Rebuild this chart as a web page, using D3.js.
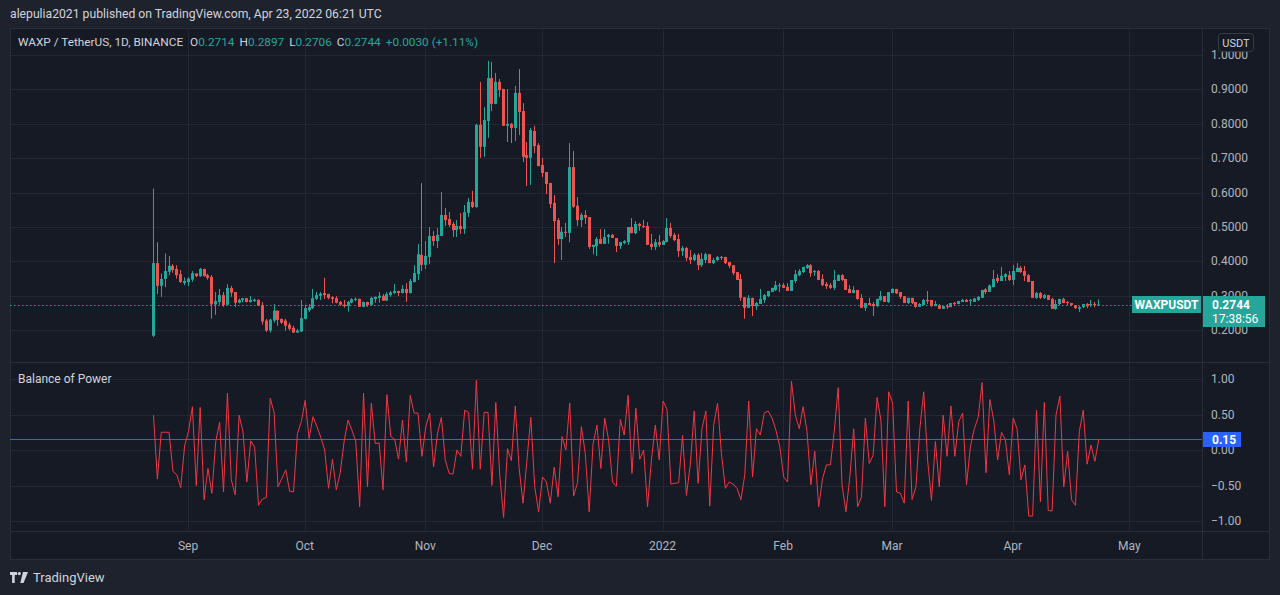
<!DOCTYPE html>
<html><head><meta charset="utf-8">
<script src="https://cdn.jsdelivr.net/npm/d3@7"></script>
<style>
html,body{margin:0;padding:0;background:#1e222d;}
svg{display:block;font-family:Roboto,"Noto Sans",sans-serif;}
</style></head>
<body><svg id="c" width="1280" height="595"></svg>
<script>
// ---------- DATA ----------
const startDate = "2021-08-23";
const opens = [.184,.395,.329,.349,.370,.387,.378,.363,.337,.340,
.347,.365,.357,.378,.360,.355,.275,.282,.302,.274,
.323,.311,.280,.288,.293,.282,.285,.288,.273,.228,
.199,.228,.257,.233,.228,.216,.207,.193,.196,.233,
.258,.264,.291,.300,.308,.305,.296,.293,.282,.274,
.271,.280,.288,.291,.268,.282,.274,.291,.294,.300,
.286,.302,.308,.314,.308,.320,.308,.340,.363,.419,
.390,.413,.474,.459,.474,.535,.523,.509,.491,.503,
.494,.541,.573,.558,.797,.733,.808,.933,.858,.922,
.901,.794,.800,.788,.890,.837,.709,.701,.779,.738,
.680,.660,.628,.570,.520,.465,.486,.483,.674,.562,
.520,.535,.529,.442,.445,.465,.451,.471,.477,.468,
.445,.453,.456,.500,.482,.509,.503,.503,.451,.442,
.456,.448,.456,.497,.477,.465,.430,.439,.413,.404,
.419,.389,.404,.421,.395,.404,.413,.413,.398,.389,
.369,.349,.296,.265,.294,.270,.276,.288,.299,.311,
.317,.328,.331,.326,.314,.343,.360,.369,.381,.389,
.369,.372,.349,.334,.331,.323,.343,.360,.349,.320,
.308,.317,.294,.265,.279,.276,.270,.288,.299,.282,
.308,.320,.311,.299,.279,.294,.282,.268,.273,.288,
.288,.270,.273,.262,.270,.267,.279,.276,.282,.288,
.285,.282,.288,.294,.319,.311,.325,.352,.343,.355,
.360,.346,.369,.381,.372,.360,.343,.294,.308,.294,
.302,.291,.262,.276,.291,.282,.279,.273,.262,.267,
.276,.273,.276,.2714];
const highs = [.612,.456,.365,.423,.416,.392,.389,.375,.353,.354,
.372,.365,.381,.379,.364,.360,.311,.320,.311,.334,
.329,.311,.292,.294,.294,.299,.292,.290,.282,.233,
.233,.276,.257,.233,.233,.222,.213,.204,.288,.274,
.276,.320,.311,.311,.352,.306,.299,.299,.285,.288,
.285,.293,.295,.292,.283,.283,.297,.298,.311,.305,
.311,.314,.334,.315,.331,.337,.349,.389,.451,.628,
.459,.500,.488,.497,.602,.555,.544,.515,.520,.541,
.564,.584,.605,.800,.922,.849,.983,.980,.948,.930,
.902,.901,.802,.910,.959,.860,.747,.788,.794,.744,
.701,.660,.628,.593,.526,.500,.512,.744,.721,.587,
.541,.549,.529,.448,.471,.494,.494,.480,.480,.468,
.456,.462,.500,.526,.517,.512,.520,.514,.480,.465,
.477,.462,.526,.512,.483,.480,.445,.442,.433,.424,
.424,.425,.425,.421,.410,.416,.416,.413,.398,.389,
.369,.363,.296,.302,.294,.282,.320,.305,.314,.323,
.343,.337,.337,.337,.346,.375,.378,.384,.392,.392,
.375,.375,.363,.340,.337,.375,.363,.363,.349,.331,
.328,.317,.305,.279,.294,.282,.291,.314,.299,.311,
.322,.320,.311,.299,.294,.294,.282,.279,.291,.314,
.288,.285,.276,.270,.276,.279,.282,.285,.291,.291,
.291,.294,.299,.317,.322,.333,.375,.363,.384,.366,
.372,.390,.395,.387,.387,.363,.343,.311,.311,.305,
.302,.294,.288,.291,.294,.285,.279,.273,.270,.276,
.279,.288,.282,.2897];
const lows = [.180,.305,.297,.325,.360,.367,.350,.337,.331,.328,
.341,.354,.355,.356,.347,.234,.245,.274,.268,.274,
.297,.268,.278,.281,.281,.280,.282,.271,.216,.195,
.193,.222,.213,.218,.199,.199,.193,.193,.195,.231,
.253,.262,.288,.288,.291,.290,.278,.278,.271,.266,
.254,.278,.284,.268,.267,.268,.271,.280,.280,.285,
.285,.297,.305,.299,.307,.282,.307,.339,.346,.372,
.378,.392,.445,.439,.473,.503,.500,.471,.471,.480,
.480,.529,.555,.556,.701,.704,.759,.837,.857,.878,
.794,.747,.744,.750,.767,.689,.619,.622,.715,.677,
.645,.596,.555,.395,.448,.404,.471,.456,.556,.503,
.500,.509,.436,.421,.416,.451,.451,.451,.468,.427,
.436,.450,.448,.482,.479,.489,.497,.448,.433,.433,
.442,.448,.456,.468,.459,.413,.416,.401,.392,.401,
.375,.384,.395,.395,.392,.401,.404,.392,.381,.360,
.346,.285,.233,.265,.241,.259,.276,.279,.296,.311,
.314,.311,.323,.314,.314,.337,.357,.366,.378,.355,
.358,.346,.328,.320,.320,.317,.343,.343,.317,.308,
.308,.288,.265,.256,.273,.241,.267,.285,.282,.279,
.308,.305,.291,.279,.276,.276,.265,.268,.273,.276,
.268,.270,.262,.262,.262,.267,.273,.276,.282,.282,
.273,.282,.285,.294,.305,.311,.325,.337,.343,.343,
.343,.331,.369,.366,.343,.340,.294,.291,.291,.291,
.288,.262,.259,.273,.279,.273,.270,.262,.253,.264,
.264,.268,.267,.2706];
const closes = [.395,.329,.349,.372,.387,.375,.360,.340,.343,.350,
.366,.357,.378,.357,.352,.275,.285,.302,.273,.323,
.309,.280,.288,.293,.282,.288,.289,.271,.225,.199,
.231,.257,.230,.222,.213,.204,.193,.199,.235,.264,
.267,.293,.302,.306,.302,.294,.291,.280,.274,.270,
.282,.290,.291,.268,.282,.273,.294,.297,.300,.286,
.305,.310,.314,.308,.320,.308,.343,.366,.421,.390,
.416,.474,.459,.477,.535,.520,.506,.491,.503,.494,
.543,.573,.558,.797,.733,.811,.933,.858,.922,.898,
.794,.800,.788,.890,.834,.704,.701,.782,.735,.677,
.657,.625,.567,.517,.465,.486,.483,.674,.559,.520,
.535,.527,.442,.448,.465,.451,.471,.477,.468,.445,
.456,.459,.500,.482,.509,.503,.500,.448,.442,.456,
.448,.459,.497,.474,.462,.430,.439,.410,.404,.419,
.389,.407,.421,.395,.404,.413,.410,.395,.387,.366,
.346,.294,.265,.294,.270,.279,.291,.302,.314,.323,
.331,.331,.323,.314,.346,.363,.372,.384,.389,.366,
.372,.346,.331,.328,.323,.346,.360,.346,.317,.308,
.317,.291,.265,.279,.273,.270,.291,.299,.282,.311,
.320,.307,.297,.279,.294,.279,.268,.276,.288,.284,
.270,.276,.262,.270,.267,.279,.276,.285,.288,.282,
.288,.292,.297,.317,.311,.330,.349,.343,.358,.363,
.346,.372,.381,.369,.358,.340,.294,.308,.294,.302,
.288,.262,.276,.291,.279,.279,.273,.264,.267,.276,
.270,.276,.273,.2744];
const bop = [.49,-.41,.25,.25,.25,-.30,-.35,-.53,.06,.26,
.61,-.50,.60,-.70,-.26,-.61,.12,.39,-.59,.80,
-.42,-.63,.49,.26,-.45,.13,.04,-.78,-.69,-.67,
.73,.53,-.52,-.40,-.28,-.58,-.59,.23,.40,.70,
.16,.47,.33,.18,.0,-.54,-.13,-.56,-.32,.12,
.42,.28,.12,-.80,.80,-.52,.66,.09,.10,-.56,
.78,.19,.15,-.13,.42,-.17,.77,.52,.52,-.09,
.33,.52,-.24,.23,.46,-.14,-.33,-.34,.0,-.09,
.56,.53,-.27,.98,-.27,.53,.53,-.50,.67,-.35,
-.95,.02,-.15,.62,-.26,-.75,-.14,.46,-.52,-.87,
-.38,-.45,-.75,-.24,-.66,.19,.0,.66,-.65,-.46,
.33,-.05,-.87,.09,.35,-.26,.45,.14,-.45,-.51,
.43,.21,.77,-.33,.59,-.13,.0,-.80,-.14,.35,
-.14,.69,.57,-.48,-.47,-.46,.21,-.64,-.2,.55,
-.47,.30,.55,-.79,.35,.66,-.05,-.54,-.45,-.48,
-.54,-.70,-.35,.69,-.38,.30,.21,.52,.55,.45,
.28,.05,-.38,-.45,.97,.49,.30,.61,.26,-.49,
-.02,-.80,-.40,-.21,-.21,.26,.88,-.49,-.87,-.38,
.30,-.80,-.66,.45,-.19,-.07,.74,.42,-.80,.82,
.66,-.59,-.61,-.75,.69,-.70,-.52,.30,.82,-.14,
-.71,.12,-.52,.49,-.09,.62,-.09,.40,.52,-.49,
.05,.30,.46,.95,-.32,.71,.42,-.14,.25,.14,
-.35,.45,.30,-.42,-.21,-.93,-.93,.56,-.73,.67,
-.85,-.86,.49,.76,-.52,-.02,-.70,-.78,.26,.56,
-.20,.07,-.16,.15];
const priceTicks = [0.2,0.3,0.4,0.5,0.6,0.7,0.8,0.9,1.0];
const bopTicks = [1,0.5,0,-0.5,-1];
const bopTickLabels = ["1.00","0.50","0.00","\u22120.50","\u22121.00"];
const monthDates = ["2021-09-01","2021-10-01","2021-11-01","2021-12-01","2022-01-01","2022-02-01","2022-03-01","2022-04-01","2022-05-01"];
const monthLabels = ["Sep","Oct","Nov","Dec","2022","Feb","Mar","Apr","May"];
const lastPrice = 0.2744, lastBop = 0.15;

// ---------- LAYOUT ----------
const W=1280,H=595;
const L=10, R=1202, AX=1270, T=28, PB=362, BB=531, TB=560;
const UP="#26a69a", DN="#ef5350", GRID="#232733", TXT="#b2b5be";
const svg=d3.select("#c");
const parse=d3.utcParse("%Y-%m-%d");
const d0=parse(startDate);
const dates=opens.map((_,i)=>d3.utcDay.offset(d0,i));

const x=d3.scaleUtc().domain([d0,parse("2022-05-01")]).range([153,1129.4]);
const y=d3.scaleLinear().domain([0.2,1.0]).range([330.2,55]);
const yb=d3.scaleLinear().domain([-1,1]).range([521,379]);

const defs=svg.append("defs");
defs.append("clipPath").attr("id","clipTop").append("rect").attr("x",1203).attr("y",280).attr("width",66).attr("height",16);
defs.append("clipPath").attr("id","clipBot").append("rect").attr("x",1203).attr("y",327).attr("width",66).attr("height",12);
defs.append("clipPath").attr("id","clipB0").append("rect").attr("x",1203).attr("y",447).attr("width",66).attr("height",12);

svg.append("rect").attr("width",W).attr("height",H).attr("fill","#1e222d");
svg.append("rect").attr("x",L).attr("y",T).attr("width",AX-L).attr("height",TB-T).attr("fill","#161a25");

// header
svg.append("text").attr("x",10).attr("y",18).attr("fill","#d1d4dc").attr("font-size",12.2).text("alepulia2021 published on TradingView.com, Apr 23, 2022 06:21 UTC");

// grids
const g=svg.append("g");
monthDates.forEach(d=>{const xx=Math.round(x(parse(d)))+0.5;
  g.append("line").attr("x1",xx).attr("x2",xx).attr("y1",T).attr("y2",BB).attr("stroke",GRID);});
priceTicks.forEach(p=>{const yy=Math.round(y(p))+0.5;
  g.append("line").attr("x1",L).attr("x2",R).attr("y1",yy).attr("y2",yy).attr("stroke",GRID);});
bopTicks.forEach(p=>{const yy=Math.round(yb(p))+0.5;
  g.append("line").attr("x1",L).attr("x2",R).attr("y1",yy).attr("y2",yy).attr("stroke",GRID);});

// separators
const sep=svg.append("g").attr("stroke","#2a2e39");
sep.append("line").attr("x1",L).attr("x2",AX).attr("y1",PB+0.5).attr("y2",PB+0.5);
sep.append("line").attr("x1",L).attr("x2",AX).attr("y1",BB+0.5).attr("y2",BB+0.5);
sep.append("line").attr("x1",R+0.5).attr("x2",R+0.5).attr("y1",T).attr("y2",TB);
sep.append("rect").attr("x",L+0.5).attr("y",T+0.5).attr("width",AX-L-1).attr("height",TB-T-1).attr("fill","none");

// last price dotted line
const yl=Math.round(y(lastPrice))+0.5;
svg.append("line").attr("x1",L).attr("x2",1132).attr("y1",yl).attr("y2",yl)
  .attr("stroke",UP).attr("stroke-dasharray","1.5,2.5");

// candles
const cg=svg.append("g");
dates.forEach((d,i)=>{
  const cx=Math.round(x(d));
  const up=closes[i]>=opens[i]; const col=up?UP:DN;
  cg.append("rect").attr("x",cx).attr("width",1).attr("y",y(highs[i])).attr("height",Math.max(1,y(lows[i])-y(highs[i]))).attr("fill",col);
  const top=y(Math.max(opens[i],closes[i])), bot=y(Math.min(opens[i],closes[i]));
  cg.append("rect").attr("x",cx-1).attr("width",3).attr("y",top).attr("height",Math.max(1,bot-top)).attr("fill",col);
});

// legend
const lg=svg.append("text").attr("x",18).attr("y",46).attr("font-size",11.8);
lg.append("tspan").attr("fill","#d1d4dc").text("WAXP / TetherUS, 1D, BINANCE");
const ohlc=[["O","0.2714"],["H","0.2897"],["L","0.2706"],["C","0.2744"]];
ohlc.forEach(([k,v],j)=>{lg.append("tspan").attr("fill","#d1d4dc").attr("dx",j==0?7:5).text(k);lg.append("tspan").attr("fill",UP).text(v);});
lg.append("tspan").attr("fill",UP).attr("dx",5).text("+0.0030 (+1.11%)");

// BoP
svg.append("text").attr("x",18).attr("y",383).attr("fill","#d1d4dc").attr("font-size",12).text("Balance of Power");
const yl2=Math.round(yb(lastBop))+0.5;
svg.append("line").attr("x1",L).attr("x2",R).attr("y1",yl2).attr("y2",yl2).attr("stroke","#2962ff").attr("stroke-width",1);
svg.append("path").datum(bop).attr("fill","none").attr("stroke","#f23645").attr("stroke-width",1)
  .attr("d",d3.line().x((v,i)=>x(dates[i])+0.5).y(v=>yb(v)));

// price axis labels
const pa=svg.append("g").attr("font-size",12).attr("fill",TXT);
priceTicks.forEach(p=>{const t=pa.append("text").attr("x",1211).attr("y",y(p)+4).text(p.toFixed(4));
  if(p===0.3) t.attr("clip-path","url(#clipTop)");
  if(p===0.2) t.attr("clip-path","url(#clipBot)");});
bopTicks.forEach((p,j)=>{const t=pa.append("text").attr("x",1211).attr("y",yb(p)+4).text(bopTickLabels[j]);
  if(p===0) t.attr("clip-path","url(#clipB0)");});
// time axis
monthDates.forEach((d,j)=>{svg.append("text").attr("x",x(parse(d))).attr("y",550).attr("text-anchor","middle").attr("font-size",12).attr("fill",TXT).text(monthLabels[j]);});

// USDT box
svg.append("rect").attr("x",1218.5).attr("y",33.5).attr("width",35).attr("height",18).attr("rx",3).attr("fill","#161a25").attr("stroke","#363a45");
svg.append("text").attr("x",1236).attr("y",46.5).attr("text-anchor","middle").attr("font-size",11).attr("fill","#d1d4dc").text("USDT");

// last price labels
svg.append("rect").attr("x",1132).attr("y",296).attr("width",69).attr("height",17).attr("fill",UP);
svg.append("text").attr("x",1166.5).attr("y",309).attr("text-anchor","middle").attr("font-size",12).attr("font-weight","bold").attr("fill","#fff").text("WAXPUSDT");
svg.append("rect").attr("x",1203).attr("y",296).attr("width",62).attr("height",31).attr("fill",UP);
svg.append("text").attr("x",1212).attr("y",309).attr("font-size",12).attr("font-weight","bold").attr("fill","#fff").text(lastPrice.toFixed(4));
svg.append("text").attr("x",1212).attr("y",323).attr("font-size",12).attr("fill","#fff").text("17:38:56");
// bop label
svg.append("rect").attr("x",1203).attr("y",432).attr("width",38).attr("height",15).attr("fill","#2962ff");
svg.append("text").attr("x",1212).attr("y",444).attr("font-size",12).attr("font-weight","bold").attr("fill","#fff").text(lastBop.toFixed(2));

// footer logo
const lgo=svg.append("g").attr("fill","#d1d4dc");
lgo.append("path").attr("d","M10,572h7v3h-2.3v8h-2.6v-8h-2.1z");
lgo.append("circle").attr("cx",19.3).attr("cy",573.6).attr("r",1.6);
lgo.append("path").attr("d","M23,572h5l-4.5,11h-3.2z");
svg.append("text").attr("x",33).attr("y",582).attr("font-size",13).attr("fill","#d1d4dc").text("TradingView");
</script></body></html>
